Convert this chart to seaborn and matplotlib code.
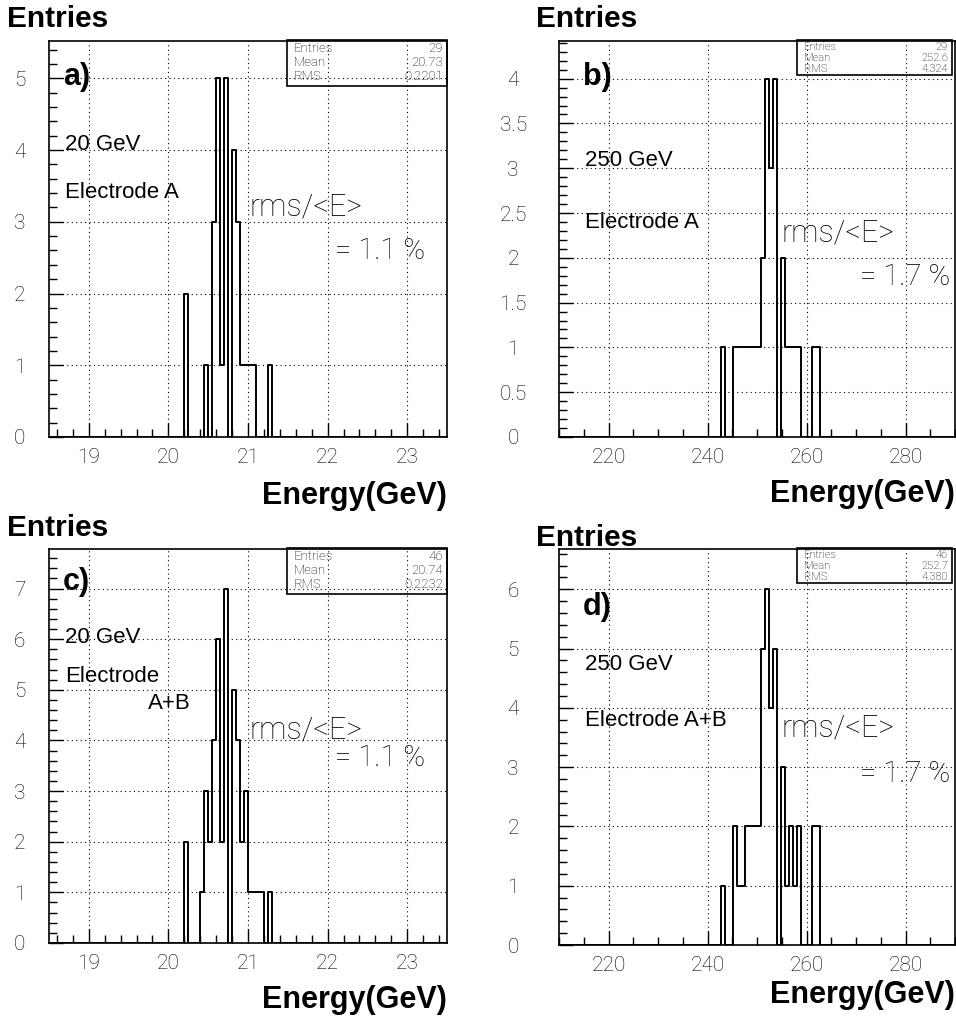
import numpy as np
import pandas as pd
import matplotlib
matplotlib.use("Agg")
import matplotlib.pyplot as plt
import seaborn as sns
from matplotlib.patches import Rectangle
from matplotlib.ticker import MultipleLocator, FuncFormatter

# ---------------- data ----------------
# low edge of each non-empty bin and its count
a_bin_lo = [20.20, 20.45, 20.55, 20.60, 20.65, 20.70, 20.80, 20.85, 20.90, 20.95, 21.00, 21.05, 21.25]
a_counts = [2, 1, 3, 5, 1, 5, 4, 3, 1, 1, 1, 1, 1]

b_bin_lo = [242.8, 245.2, 246.0, 246.8, 247.6, 248.4, 249.2, 250.0, 250.8, 251.6, 252.4, 253.2,
            254.8, 255.6, 256.4, 257.2, 258.0, 261.2, 262.0]
b_counts = [1, 1, 1, 1, 1, 1, 1, 1, 2, 4, 3, 4, 2, 1, 1, 1, 1, 1, 1]

c_bin_lo = [20.20, 20.40, 20.45, 20.50, 20.55, 20.60, 20.65, 20.70, 20.80, 20.85, 20.90, 20.95,
            21.00, 21.05, 21.10, 21.15, 21.25]
c_counts = [2, 1, 3, 2, 4, 6, 2, 7, 5, 4, 2, 3, 1, 1, 1, 1, 1]

d_bin_lo = [242.8, 245.2, 246.0, 246.8, 247.6, 248.4, 249.2, 250.0, 250.8, 251.6, 252.4, 253.2,
            254.8, 255.6, 256.4, 257.2, 258.0, 261.2, 262.0]
d_counts = [1, 2, 1, 1, 2, 2, 2, 2, 5, 6, 4, 5, 3, 1, 2, 1, 2, 2, 2]

low_range = (18.5, 23.5)
high_range = (210.0, 290.0)
n_bins = 100

panel_tags = ["a)", "b)", "c)", "d)"]
energies = ["20 GeV", "250 GeV", "20 GeV", "250 GeV"]
resolutions = ["= 1.1 %", "= 1.7 %", "= 1.1 %", "= 1.7 %"]
stat_entries = ["29", "29", "46", "46"]
stat_means = ["20.73", "252.6", "20.74", "252.7"]
stat_rms = ["0.2201", "4.324", "0.2232", "4.380"]

# ---------------- style ----------------
sns.set_style("ticks")
plt.rcParams["font.family"] = ["Liberation Sans", "DejaVu Sans"]
plt.rcParams["text.color"] = "black"
plt.rcParams["xtick.color"] = "black"
plt.rcParams["ytick.color"] = "black"
plt.rcParams["xtick.labelcolor"] = "black"
plt.rcParams["ytick.labelcolor"] = "black"
THIN = dict(family=["Roboto", "DejaVu Sans"], weight="light", color="black")

W, H = 956, 1021
fig = plt.figure(figsize=(W / 100, H / 100), dpi=100)


def add_ax(l, t, r, b):
    return fig.add_axes([l / W, 1 - b / H, (r - l) / W, (b - t) / H])


def ftext(x, y, s, **kw):
    kw.setdefault("color", "black")
    fig.text(x / W, 1 - y / H, s, **kw)


axes_px = [(49, 41, 447, 437), (559, 41, 955, 437), (49, 549, 447, 943), (559, 549, 955, 945)]
datasets = [(a_bin_lo, a_counts, low_range), (b_bin_lo, b_counts, high_range),
            (c_bin_lo, c_counts, low_range), (d_bin_lo, d_counts, high_range)]
ymax = [5.52, 4.42, 7.78, 6.68]
ymajor = [1, 0.5, 1, 1]
yminor = [0.2, 0.1, 0.2, 0.2]
xmajor = [1, 20, 1, 20]
xminor = [0.2, 5, 0.2, 5]
ylab_pad = [21, 33, 21, 33]

for i in range(4):
    lo, cnt, rng = datasets[i]
    w = (rng[1] - rng[0]) / n_bins
    df = pd.DataFrame({"E": np.array(lo) + w / 2, "n": np.array(cnt, dtype=float)})
    ax = add_ax(*axes_px[i])
    sns.histplot(data=df, x="E", weights="n", bins=n_bins, binrange=rng, element="step",
                 fill=False, color="black", linewidth=1.4, ax=ax)
    ax.set_xlabel("")
    ax.set_ylabel("")
    ax.set_xlim(*rng)
    ax.set_ylim(0, ymax[i])
    ax.xaxis.set_major_locator(MultipleLocator(xmajor[i]))
    ax.xaxis.set_minor_locator(MultipleLocator(xminor[i]))
    ax.yaxis.set_major_locator(MultipleLocator(ymajor[i]))
    ax.yaxis.set_minor_locator(MultipleLocator(yminor[i]))
    ax.yaxis.set_major_formatter(FuncFormatter(lambda v, p: "%g" % v))
    ax.xaxis.set_major_formatter(FuncFormatter(lambda v, p: "%g" % v))
    ax.tick_params(which="both", direction="in", top=False, right=False, color="black", width=1)
    ax.tick_params(which="major", length=10)
    ax.tick_params(which="minor", length=5.5)
    ax.tick_params(axis="x", which="major", pad=8, labelsize=15, labelcolor="black")
    ax.tick_params(axis="y", which="major", pad=ylab_pad[i], labelsize=15, labelcolor="black")
    for lab in ax.get_xticklabels() + ax.get_yticklabels():
        lab.set_fontfamily(THIN["family"])
        lab.set_fontweight("light")
        lab.set_color("black")
    for lab in ax.get_yticklabels():
        lab.set_horizontalalignment("center")
    ax.grid(True, which="major", linestyle=(0, (1, 3)), color="black", linewidth=0.8)
    for s in ax.spines.values():
        s.set_visible(True)
        s.set_color("black")
        s.set_linewidth(1.2)

    # stats box (transparent)
    l, t, r, b = axes_px[i]
    if i % 2 == 0:
        bx0, bx1, by0, by1, fs, rows = 287, r, t - 1, t + 45, 9.5, [t + 7, t + 21, t + 35]
    else:
        bx0, bx1, by0, by1, fs, rows = 797, r - 3, t - 1, t + 34, 8, [t + 6, t + 17, t + 28]
    fig.patches.append(Rectangle((bx0 / W, 1 - by1 / H), (bx1 - bx0) / W, (by1 - by0) / H,
                                 transform=fig.transFigure, fill=False, edgecolor="black",
                                 linewidth=1.2))
    names = ["Entries", "Mean", "RMS"]
    vals = [stat_entries[i], stat_means[i], stat_rms[i]]
    for nm, vl, yy in zip(names, vals, rows):
        ftext(bx0 + 7, yy, nm, fontsize=fs, va="center", ha="left", **THIN)
        ftext(bx1 - 4, yy, vl, fontsize=fs, va="center", ha="right", **THIN)

# axis titles
for (x, y) in [(7, 19), (536, 19), (7, 528), (536, 538)]:
    ftext(x, y, "Entries", fontsize=21.5, fontweight="bold", va="center", ha="left")
for (x, y) in [(447, 496), (955, 494), (447, 1000), (955, 995)]:
    ftext(x, y, "Energy(GeV)", fontsize=22, fontweight="bold", va="center", ha="right")

# panel annotations
tag_pos = [(63, 77), (583, 77), (63, 582), (583, 607)]
en_pos = [(65, 145), (585, 160), (65, 637), (585, 665)]
for i in range(4):
    ftext(*tag_pos[i], panel_tags[i], fontsize=22, fontweight="bold", va="center", ha="left")
    ftext(*en_pos[i], energies[i], fontsize=16, va="center", ha="left")
ftext(65, 192, "Electrode A", fontsize=16, va="center", ha="left")
ftext(585, 222, "Electrode A", fontsize=16, va="center", ha="left")
ftext(65, 677, "Electrode", fontsize=16, va="center", ha="left")
ftext(148, 703, "A+B", fontsize=16, va="center", ha="left")
ftext(585, 720, "Electrode A+B", fontsize=16, va="center", ha="left")

rms_pos = [(249, 207), (782, 233), (249, 730), (782, 728)]
res_pos = [(425, 251), (950, 277), (425, 758), (950, 774)]
for i in range(4):
    ftext(*rms_pos[i], "rms/<E>", fontsize=22, va="center", ha="left", **THIN)
    ftext(*res_pos[i], resolutions[i], fontsize=21, va="center", ha="right", **THIN)

fig.savefig("out.png", dpi=100)
